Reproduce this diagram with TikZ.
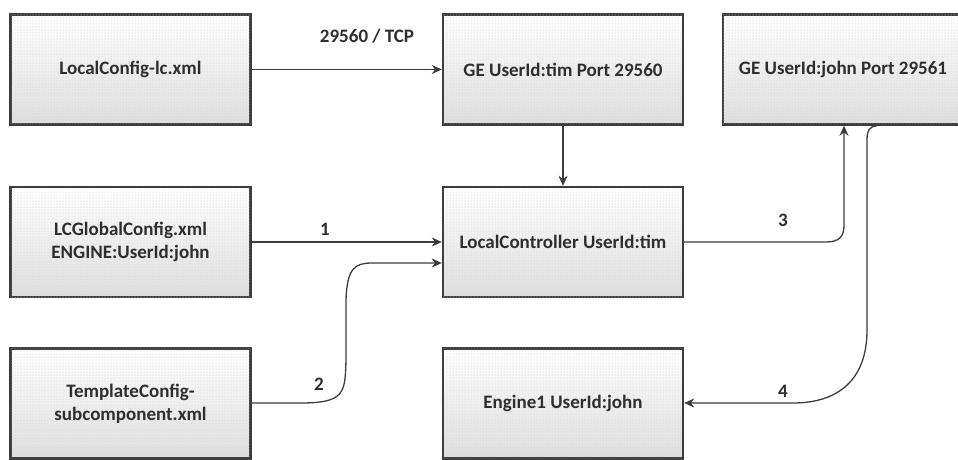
\documentclass[tikz,border=0pt]{standalone}
\usepackage{fontspec}
\setmainfont{Carlito}
\usetikzlibrary{arrows.meta,patterns}
\definecolor{edge}{HTML}{3C3C3C}
\definecolor{ink}{HTML}{2E2E2E}
\tikzset{
  box/.style={draw=edge, line width=2.4pt, minimum width=240pt, minimum height=110pt,
    inner sep=0pt, align=center, font=\fontsize{19}{23}\selectfont\bfseries,
    text=ink, top color=white, bottom color=black!13,
    postaction={pattern=dots, pattern color=black!18}},
  link/.style={draw=edge, line width=1.3pt, -{Stealth[length=10pt,width=9pt]}},
  tag/.style={font=\fontsize{19}{23}\selectfont\bfseries, text=ink, inner sep=1pt}
}
\begin{document}
\begin{tikzpicture}[x=1pt,y=-1pt]
\useasboundingbox (0,0) rectangle (958,459);
\clip (0,0) rectangle (958,459);
% configuration files
\node[box] (lc)   at (130.5,69.5)  {LocalConfig-lc.xml};
\node[box] (glob) at (130.5,242)   {LCGlobalConfig.xml\\ENGINE:UserId:john};
\node[box] (tmpl) at (130.5,403.5) {TemplateConfig-\\subcomponent.xml};
% processes
\node[box] (getim)  at (563,69.5)  {GE UserId:tim Port 29560};
\node[box] (ctrl)   at (563,242)   {LocalController UserId:tim};
\node[box] (engine) at (563,403.5) {Engine1 UserId:john};
\node[box] (gejohn) at (843,69.5)  {GE UserId:john Port 29561};
% connectors
\draw[link] (lc.east) -- (getim.west);
\node[tag] (tcp) at (367,36) {29560 / TCP};
\draw[link] (getim.south) -- (ctrl.north);
\draw[link] (glob.east) -- (ctrl.west);
\node[tag] (n1) at (325,229) {1};
\coordinate (c2a) at (300,403);
\coordinate (c2b) at (372,263);
\draw[link] (tmpl.east |- 0,403) -- (c2a)
  .. controls (345,403) and (345,393) .. (346,360)
  -- (346,300)
  .. controls (347,268) and (355,263) .. (c2b) -- (ctrl.west |- 0,263);
\node[tag] (n2) at (319,384) {2};
\draw[link] (ctrl.east) -- (826,242)
  .. controls (840,242) and (844,236) .. (844,225) -- (gejohn.south -| 844,0);
\node[tag] (n3) at (783,220) {3};
\draw[link] (gejohn.south -| 877,0) .. controls (870,126) and (867,130) .. (867,140)
  -- (867,330)
  .. controls (867,380) and (838,403) .. (793,403) -- (engine.east |- 0,403);
\node[tag] (n4) at (783,391) {4};
\end{tikzpicture}
\end{document}
